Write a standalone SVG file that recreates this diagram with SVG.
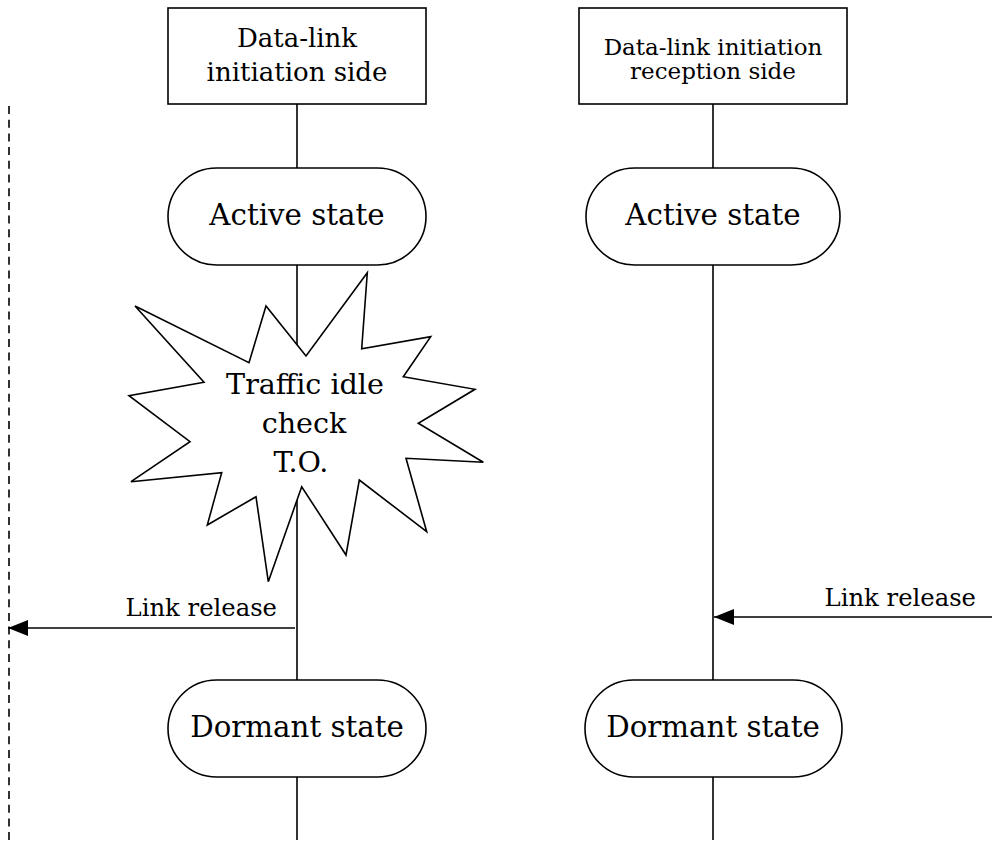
<svg xmlns="http://www.w3.org/2000/svg" width="992" height="842" viewBox="0 0 992 842">
  <style>
    .shape { fill: #ffffff; stroke: #000000; stroke-width: 1.6; }
    .line { fill: none; stroke: #000000; stroke-width: 1.6; }
    .dash { fill: none; stroke: #000000; stroke-width: 1.6; stroke-dasharray: 8 5.7; }
    text { font-family: "DejaVu Serif", "Liberation Serif", serif; fill: #000000; text-anchor: middle; }
    .t-head { font-size: 26px; }
    .t-head-sm { font-size: 23px; }
    .t-state { font-size: 29.3px; }
    .t-burst { font-size: 28.6px; }
    .t-label { font-size: 24.3px; text-anchor: end; }
  </style>
  <defs>
    <marker id="arrow" viewBox="0 0 20 16" refX="20" refY="8" markerWidth="20" markerHeight="16" markerUnits="userSpaceOnUse" orient="auto">
      <path d="M20,8 L0,0 L0,16 Z" fill="#000000"/>
    </marker>
  </defs>
  <rect width="992" height="842" fill="#ffffff"/>

  <!-- lifelines and messages -->
  <g id="connectors">
    <line class="dash" x1="9" y1="106" x2="9" y2="842"/>
    <line class="line" x1="297" y1="104" x2="297" y2="840"/>
    <line class="line" x1="713" y1="104" x2="713" y2="840"/>
    <line class="line" x1="295" y1="628" x2="8" y2="628" marker-end="url(#arrow)"/>
    <line class="line" x1="992" y1="617" x2="714" y2="617" marker-end="url(#arrow)"/>
    <text class="t-label" x="277" y="616">Link release</text>
    <text class="t-label" x="976" y="606">Link release</text>
  </g>

  <!-- initiation side -->
  <g id="initiator">
    <rect class="shape" x="168" y="8" width="258" height="96"/>
    <text class="t-head" x="297" y="47">Data-link</text>
    <text class="t-head" x="297" y="81">initiation side</text>
  </g>
  <g id="initiator-active">
    <rect class="shape" x="168" y="168" width="258" height="97" rx="48.5"/>
    <text class="t-state" x="297" y="225">Active state</text>
  </g>
  <g id="idle-timeout">
    <polygon class="shape" points="135,306 249,362.7 266,306 306,356 367.3,272.7 361.7,348.7 430.7,336.7 403.3,376.7 475,389.3 418.3,423.3 483.3,462.3 406,458.3 426.7,531.7 359.3,480 346,555 301.7,486.7 268.3,581.7 256,496.7 207.3,525 221.7,472.7 131,481.7 190,441.7 129,395.7 204,382.3"/>
    <text class="t-burst" x="305" y="394">Traffic idle</text>
    <text class="t-burst" x="304" y="433">check</text>
    <text class="t-burst" x="301" y="472">T.O.</text>
  </g>
  <g id="initiator-dormant">
    <rect class="shape" x="168" y="680" width="258" height="97" rx="48.5"/>
    <text class="t-state" x="297" y="737">Dormant state</text>
  </g>

  <!-- reception side -->
  <g id="receiver">
    <rect class="shape" x="579" y="8" width="268" height="96"/>
    <text class="t-head-sm" x="713" y="55">Data-link initiation</text>
    <text class="t-head-sm" x="713" y="79">reception side</text>
  </g>
  <g id="receiver-active">
    <rect class="shape" x="586" y="168" width="254" height="97" rx="48.5"/>
    <text class="t-state" x="713" y="225">Active state</text>
  </g>
  <g id="receiver-dormant">
    <rect class="shape" x="585" y="680" width="257" height="97" rx="48.5"/>
    <text class="t-state" x="713" y="737">Dormant state</text>
  </g>
</svg>
